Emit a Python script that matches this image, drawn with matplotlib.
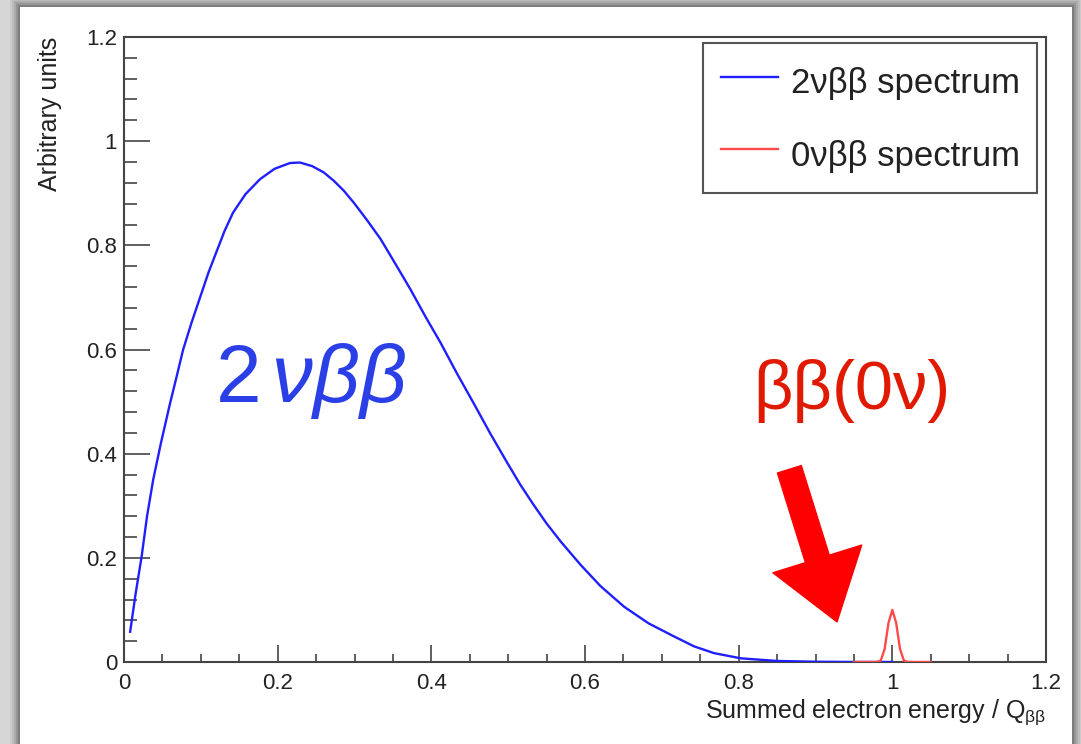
import matplotlib
matplotlib.use("Agg")
import matplotlib.pyplot as plt
from matplotlib.patches import Rectangle
from matplotlib.ticker import MultipleLocator, FuncFormatter

plt.rcParams['font.family'] = ['Liberation Sans', 'DejaVu Sans']
plt.rcParams['mathtext.fontset'] = 'custom'
plt.rcParams['mathtext.rm'] = 'Liberation Sans'
plt.rcParams['mathtext.it'] = 'Liberation Sans:italic'
plt.rcParams['mathtext.bf'] = 'Liberation Sans:bold'

# ---- data ----
x_2nu = [0.008, 0.015, 0.023, 0.030, 0.038, 0.048, 0.060, 0.068, 0.077, 0.088,
         0.099, 0.110, 0.121, 0.131, 0.142, 0.158, 0.177, 0.196, 0.216, 0.229,
         0.245, 0.260, 0.273, 0.286, 0.299, 0.316, 0.334, 0.353, 0.373, 0.392,
         0.412, 0.433, 0.455, 0.477, 0.499, 0.516, 0.533, 0.550, 0.568, 0.594,
         0.620, 0.651, 0.683, 0.716, 0.742, 0.768, 0.803, 0.850, 0.900, 0.950,
         1.000]
y_2nu = [0.058, 0.130, 0.203, 0.280, 0.350, 0.420, 0.497, 0.545, 0.600, 0.652,
         0.700, 0.748, 0.790, 0.828, 0.863, 0.898, 0.927, 0.947, 0.958, 0.959,
         0.952, 0.940, 0.924, 0.905, 0.882, 0.849, 0.812, 0.765, 0.715, 0.664,
         0.613, 0.555, 0.497, 0.438, 0.382, 0.340, 0.302, 0.266, 0.232, 0.187,
         0.146, 0.106, 0.074, 0.049, 0.030, 0.017, 0.007, 0.002, 0.0005, 0.0,
         0.0]

x_0nu = [0.950, 0.980, 0.985, 0.990, 0.995, 1.000, 1.005, 1.010, 1.015, 1.020, 1.050]
y_0nu = [0.000, 0.000, 0.003, 0.025, 0.075, 0.100, 0.075, 0.025, 0.003, 0.000, 0.000]

label_2nu = "2\u03bd\u03b2\u03b2 spectrum"
label_0nu = "0\u03bd\u03b2\u03b2 spectrum"
x_title = r"Summed electron energy / Q$_{\mathrm{\beta\beta}}$"
y_title = "Arbitrary units"
x_ticks = [0, 0.2, 0.4, 0.6, 0.8, 1.0, 1.2]
y_ticks = [0, 0.2, 0.4, 0.6, 0.8, 1.0, 1.2]

W, H = 1081, 744
fig = plt.figure(figsize=(W / 100, H / 100), dpi=100)
fig.patch.set_facecolor('#d6d6d6')

# screenshot-like panel with soft shadow
px0, py0, px1 = 20, 7, 1072
for i, a in enumerate([0.05, 0.07, 0.09, 0.12, 0.16]):
    d = 10 - 2 * i
    fig.patches.append(Rectangle(((px0 - d) / W, 0), (px1 - px0 + 2 * d) / W,
                                 (H - py0 + d) / H, transform=fig.transFigure,
                                 facecolor='black', alpha=a, edgecolor='none', zorder=-10))
fig.patches.append(Rectangle((px0 / W, 0), (px1 - px0) / W, (H - py0) / H,
                             transform=fig.transFigure, facecolor='white',
                             edgecolor='none', zorder=-5))

ax = fig.add_axes([124 / W, (H - 662) / H, (1046 - 124) / W, (662 - 37) / H])
ax.set_facecolor('white')

ax.plot(x_2nu, y_2nu, color='#1f1fff', lw=1.7, label=label_2nu, zorder=3,
        solid_joinstyle='round')
ax.plot(x_0nu, y_0nu, color='#ff4a4a', lw=1.7, label=label_0nu, zorder=3,
        solid_joinstyle='round')

ax.set_xlim(0, 1.2)
ax.set_ylim(0, 1.2)
ax.set_xticks(x_ticks)
ax.set_yticks(y_ticks)
fmt = FuncFormatter(lambda v, p: ('%g' % round(v, 3)))
ax.xaxis.set_major_formatter(fmt)
ax.yaxis.set_major_formatter(fmt)
ax.xaxis.set_minor_locator(MultipleLocator(0.05))
ax.yaxis.set_minor_locator(MultipleLocator(0.04))

for s in ax.spines.values():
    s.set_color('#444444')
    s.set_linewidth(1.5)

ax.tick_params(axis='both', which='both', direction='in', color='#444444',
               labelsize=16, labelcolor='#222222', width=1.2)
ax.tick_params(axis='x', which='major', length=12, pad=8)
ax.tick_params(axis='x', which='minor', length=6)
ax.tick_params(axis='y', which='major', length=19, pad=5)
ax.tick_params(axis='y', which='minor', length=9)

ax.set_xlabel(x_title, fontsize=18, color='#222222', loc='right', labelpad=2)
ax.set_ylabel(y_title, fontsize=18, color='#222222', loc='top', labelpad=17)

leg = ax.legend(loc='upper right', bbox_to_anchor=((1037 - 124) / 922, (662 - 43) / 625),
                borderaxespad=0, fontsize=25, frameon=True, fancybox=False,
                edgecolor='#555555', framealpha=1, handlelength=1.65,
                handleheight=1.5, handletextpad=0.37, labelspacing=0.87,
                borderpad=0.5)
leg.get_frame().set_linewidth(1.5)
for t in leg.get_texts():
    t.set_color('#222222')

# annotations
ax.text(0.1186, 0.50, r"$\mathrm{2}\,\nu\beta\beta$", color='#2b3fe6', fontsize=59,
        ha='left', va='baseline', zorder=4)
ax.text(0.8195, 0.485, "\u03b2\u03b2(0\u03bd)", color='#e01a00', fontsize=49.5,
        ha='left', va='baseline', zorder=4)
ax.annotate('', xy=(0.928, 0.077), xytext=(0.866, 0.37),
            arrowprops=dict(arrowstyle='simple,head_length=4.75,head_width=6.7,tail_width=1.8',
                            color='#ff0000', shrinkA=0, shrinkB=0, mutation_scale=10),
            zorder=4)

fig.savefig('out.png', dpi=100, facecolor=fig.get_facecolor())
